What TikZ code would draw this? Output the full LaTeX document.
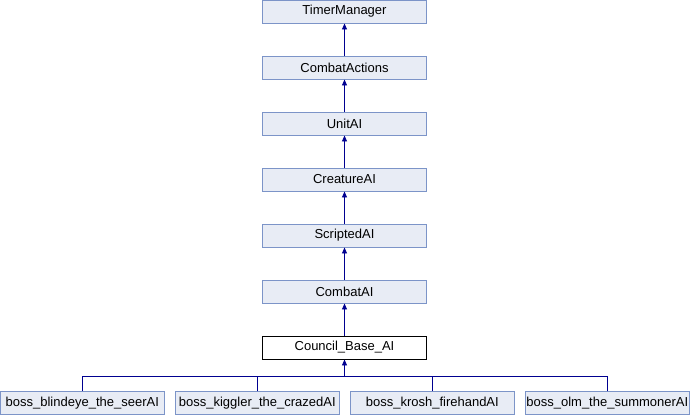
\documentclass[tikz,border=0pt]{standalone}
\usepackage{fontspec}
\setmainfont{Liberation Sans}
\usetikzlibrary{arrows.meta}
\definecolor{boxfill}{RGB}{232,236,245}
\definecolor{boxborder}{RGB}{124,148,200}
\definecolor{linkcol}{RGB}{0,0,144}
\begin{document}
\begin{tikzpicture}[x=1pt,y=-1pt,
  cls/.style={draw=boxborder, fill=boxfill, minimum width=164pt, minimum height=23pt,
    inner sep=0pt, font=\fontsize{13}{15}\selectfont, line width=0.9pt},
  cur/.style={cls, draw=black, fill=white},
  link/.style={draw=linkcol, line width=0.9pt},
  inh/.style={link, -{Triangle[length=6pt,width=5pt]}}]
\useasboundingbox (0,0) rectangle (690,416);
\node[cls] (tm) at (344.5,11.5) {TimerManager};
\node[cls] (ca) at (344.5,67.5) {CombatActions};
\node[cls] (ua) at (344.5,123.5) {UnitAI};
\node[cls] (cr) at (344.5,179.5) {CreatureAI};
\node[cls] (sa) at (344.5,235.5) {ScriptedAI};
\node[cls] (cb) at (344.5,291.5) {CombatAI};
\node[cur] (cou) at (344.5,347.5) {Council\_Base\_AI};
\node[cls] (b1) at (82.3,403.3) {boss\_blindeye\_the\_seerAI};
\node[cls] (b2) at (257.3,403.3) {boss\_kiggler\_the\_crazedAI};
\node[cls] (b3) at (432.3,403.3) {boss\_krosh\_firehandAI};
\node[cls] (b4) at (607.3,403.3) {boss\_olm\_the\_summonerAI};
\draw[inh] (ca.north) -- (tm.south);
\draw[inh] (ua.north) -- (ca.south);
\draw[inh] (cr.north) -- (ua.south);
\draw[inh] (sa.north) -- (cr.south);
\draw[inh] (cb.north) -- (sa.south);
\draw[inh] (cou.north) -- (cb.south);
\coordinate (bus) at (344.5,376);
\draw[link] (b1.north) |- (bus);
\draw[link] (b2.north) |- (bus);
\draw[link] (b3.north) |- (bus);
\draw[link] (b4.north) |- (bus);
\draw[inh] (bus) -- (cou.south);
\end{tikzpicture}
\end{document}
